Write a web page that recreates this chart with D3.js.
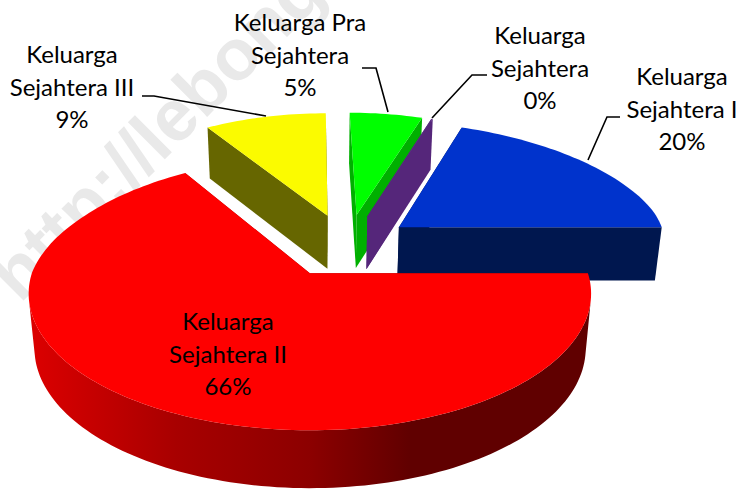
<!DOCTYPE html>
<html>
<head>
<meta charset="utf-8">
<script src="https://cdnjs.cloudflare.com/ajax/libs/d3/7.8.5/d3.min.js"></script>
<style>html,body{margin:0;padding:0;background:#fff;overflow:hidden}</style>
</head>
<body>
<div id="chart"></div>
<script>
// ---- data ----
const categories = ["Keluarga Pra Sejahtera", "Keluarga Sejahtera", "Keluarga Sejahtera I", "Keluarga Sejahtera II", "Keluarga Sejahtera III"];
const values = [5.4, 0.1, 19.5, 66, 9];
const percentLabels = ["5%", "0%", "20%", "66%", "9%"];
const labelLines = [["Keluarga Pra", "Sejahtera"], ["Keluarga", "Sejahtera"], ["Keluarga", "Sejahtera I"], ["Keluarga", "Sejahtera II"], ["Keluarga", "Sejahtera III"]];
const topColors = ["#00ff00", "#5a2a82", "#0033cc", "#fe0000", "#fbfb00"];
const wallColors = ["#00b000", "#55267a", "#00174f", "url(#redWall)", "#666600"];
const drawOrder = [4, 0, 1, 2, 3];

// ---- layout ----
const W = 742, H = 489;
const ox = 310, oy = 273, Rx = 278, Ry = 133.5, persp = 0.15;
const explode = 0.25, centre = [0.12, 0.218];
const labelCentres = [[300, 31], [540, 44], [682, 85], [228, 330], [72, 63]];
const linePitch = 32.5;
const leaderPaths = [
  [[362, 68], [376, 68], [388, 112]],
  [[487, 75], [472, 75], [432, 118]],
  [[620, 117], [607, 117], [588, 160]],
  null,
  [[142, 96], [154, 96], [266, 116]]
];

const sx = d3.scaleLinear().domain([0, 1]).range([0, Rx]);
const sy = d3.scaleLinear().domain([0, 1]).range([0, Ry]);

function project(X, Y) {
  const p = 1 / (1 + persp * Y);
  const yy = Math.max(Y, 0);
  const drift = 10 * Math.min(yy, 0.5) - 13 * X * (yy / 1.4) * (yy / 1.4);
  return [ox + sx(X * p) + drift, oy - sy(Y * p)];
}
function toBase(pt) {
  return [320 + (pt[0] - 320) * 0.98, pt[1] * 1.023 + 48];
}

const svg = d3.select("#chart").append("svg").attr("width", W).attr("height", H)
  .style("display", "block").style("background", "#fff");

const grad = svg.append("defs").append("linearGradient").attr("id", "redWall")
  .attr("gradientUnits", "userSpaceOnUse").attr("x1", 30).attr("x2", 590).attr("y1", 0).attr("y2", 0);
[[0, "#dc0000"], [0.26, "#a80000"], [0.5, "#8c0000"], [0.68, "#600000"], [1, "#600000"]]
  .forEach(s => grad.append("stop").attr("offset", s[0]).attr("stop-color", s[1]));

// watermark
svg.append("text").text("http://lebong")
  .attr("transform", "translate(20,304) rotate(-45)")
  .attr("font-family", "'Liberation Sans', Arial, sans-serif")
  .attr("font-weight", "bold").attr("font-size", 72)
  .attr("fill", "#e9e9e9");

const arcs = d3.pie().sort(null).value(d => d).startAngle(0).endAngle(2 * Math.PI)(values);
const line = d3.line();

function sliceGeometry(a) {
  const mid = (a.startAngle + a.endAngle) / 2;
  const ax = centre[0] + explode * Math.sin(mid);
  const ay = centre[1] + explode * Math.cos(mid);
  const n = Math.max(2, Math.ceil((a.endAngle - a.startAngle) * 40));
  const rim = d3.range(n + 1).map(i => {
    const t = a.startAngle + (a.endAngle - a.startAngle) * i / n;
    return project(ax + Math.sin(t), ay + Math.cos(t));
  });
  return { apex: project(ax, ay), rim };
}

drawOrder.forEach(i => {
  const g = sliceGeometry(arcs[i]);
  const grp = svg.append("g").attr("class", "slice");
  const first = g.rim[0], last = g.rim[g.rim.length - 1];
  const quad = (a, b) => [a, b, toBase(b), toBase(a)];
  const wallFace = d => grp.append("path").attr("d", d).attr("fill", wallColors[i]);
  wallFace(line(quad(g.apex, first)) + "Z");
  wallFace(line(quad(g.apex, last)) + "Z");
  // outer wall: the camera-facing quads share one path, so no seams appear between them
  const front = d3.pairs(g.rim).map(([a, b]) => quad(a, b)).filter(q => d3.polygonArea(q) > 0);
  if (front.length) wallFace(front.map(q => line(q) + "Z").join(""));
  grp.append("path").attr("d", line([g.apex].concat(g.rim)) + "Z").attr("fill", topColors[i]);
});

// leaders
leaderPaths.forEach(p => {
  if (p) svg.append("path").attr("d", line(p)).attr("fill", "none").attr("stroke", "#000").attr("stroke-width", 1.6);
});

// labels
categories.forEach((c, i) => {
  const t = svg.append("text").attr("text-anchor", "middle")
    .attr("font-family", "Lato, 'Open Sans', sans-serif").attr("font-size", 24).attr("fill", "#000");
  labelLines[i].concat([percentLabels[i]]).forEach((s, k) => {
    t.append("tspan").attr("x", labelCentres[i][0]).attr("y", labelCentres[i][1] + k * linePitch).text(s);
  });
});
</script>
</body>
</html>
